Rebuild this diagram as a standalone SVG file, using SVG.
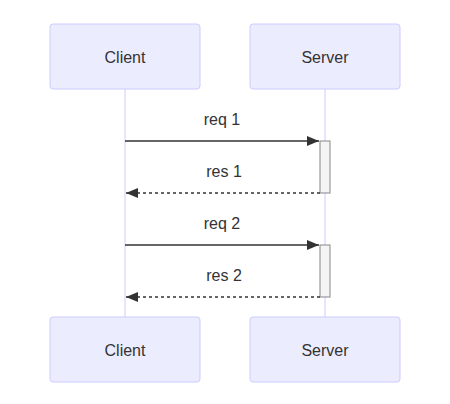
<svg xmlns="http://www.w3.org/2000/svg" width="450" height="404" viewBox="0 0 450 404">
<style>
.actor{fill:#ECECFF;stroke:#CCCCFF;stroke-width:1}
.life{stroke:#CCCCFF;stroke-width:1}
.lbl{font-family:"Liberation Sans",Arial,sans-serif;font-size:16px;fill:#333;text-anchor:middle;dominant-baseline:central}
.act{fill:#F4F4F4;stroke:#888;stroke-width:1}
.msg{stroke:#333;stroke-width:1.5;fill:none}
.dash{stroke-dasharray:3,3}
</style>
<defs>
<marker id="arrow" viewBox="0 0 12 10" refX="12" refY="5" markerWidth="12" markerHeight="10" markerUnits="userSpaceOnUse" orient="auto">
<path d="M0,0 L12,5 L0,10 z" fill="#333"/>
</marker>
</defs>
<rect width="450" height="404" fill="#fff"/>
<g id="lifelines">
<line class="life" x1="125" y1="89" x2="125" y2="317"/>
<line class="life" x1="325" y1="89" x2="325" y2="317"/>
</g>
<g id="client-top"><rect class="actor" x="50" y="24" width="150" height="65" rx="3"/><text class="lbl" x="125" y="57">Client</text></g>
<g id="server-top"><rect class="actor" x="250" y="24" width="150" height="65" rx="3"/><text class="lbl" x="325" y="57">Server</text></g>
<g id="client-bottom"><rect class="actor" x="50" y="317" width="150" height="65" rx="3"/><text class="lbl" x="125" y="350">Client</text></g>
<g id="server-bottom"><rect class="actor" x="250" y="317" width="150" height="65" rx="3"/><text class="lbl" x="325" y="350">Server</text></g>
<g id="activations">
<rect class="act" x="320" y="141" width="10" height="52"/>
<rect class="act" x="320" y="245" width="10" height="52"/>
</g>
<g id="connectors">
<line class="msg" x1="125" y1="141" x2="319" y2="141" marker-end="url(#arrow)"/>
<text class="lbl" x="222" y="119">req 1</text>
<line class="msg dash" x1="320" y1="193" x2="126" y2="193" marker-end="url(#arrow)"/>
<text class="lbl" x="224" y="171">res 1</text>
<line class="msg" x1="125" y1="245" x2="319" y2="245" marker-end="url(#arrow)"/>
<text class="lbl" x="222" y="223">req 2</text>
<line class="msg dash" x1="320" y1="297" x2="126" y2="297" marker-end="url(#arrow)"/>
<text class="lbl" x="224" y="275">res 2</text>
</g>
</svg>
